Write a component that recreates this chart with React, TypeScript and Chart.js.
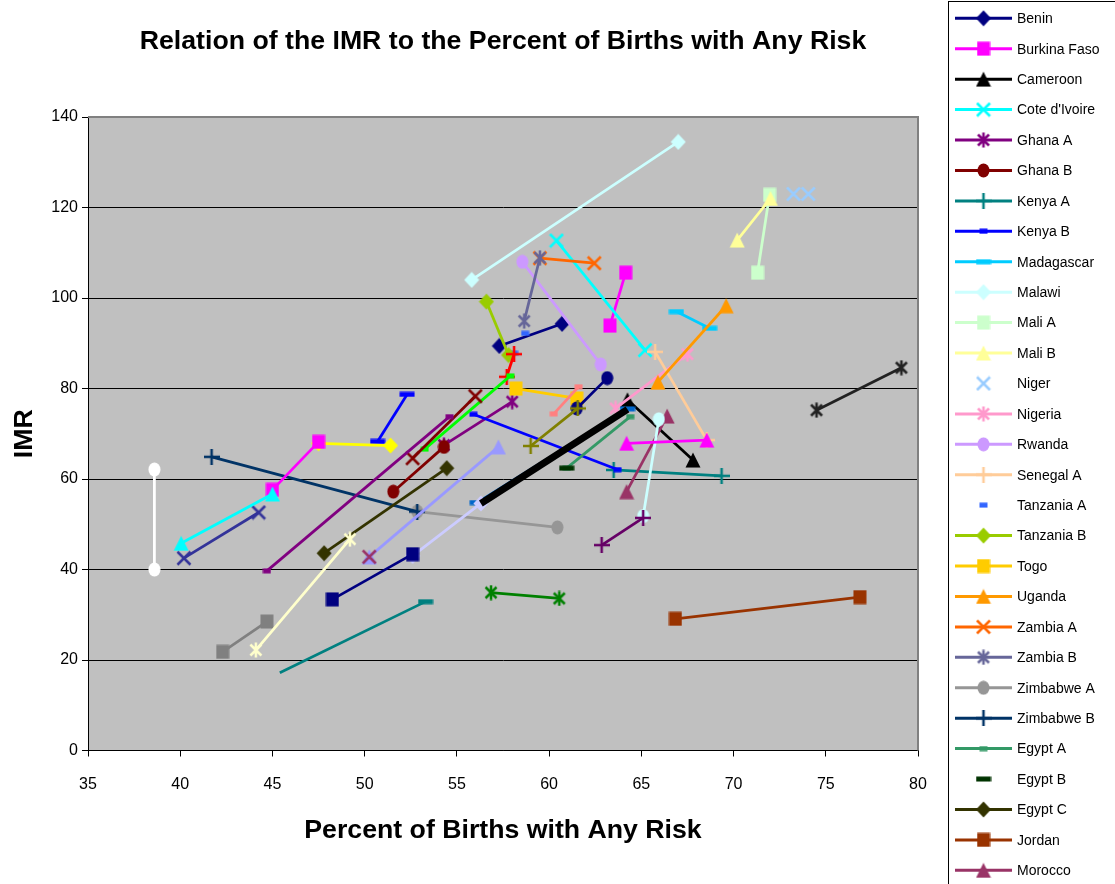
import React, { useEffect, useRef } from 'react';
import { Chart, registerables } from 'chart.js';

Chart.register(...registerables);

const FONT = "'Liberation Sans', Arial, sans-serif";

const chartTitle = 'Relation of the IMR to the Percent of Births with Any Risk';
const xAxisTitle = 'Percent of Births with Any Risk';
const yAxisTitle = 'IMR';

const xMin = 35;
const xMax = 80;
const xStep = 5;
const yMin = 0;
const yMax = 140;
const yStep = 20;

const seriesNames = [
  'Benin', 'Burkina Faso', 'Cameroon', "Cote d'Ivoire", 'Ghana A', 'Ghana B', 'Kenya A', 'Kenya B',
  'Madagascar', 'Malawi', 'Mali A', 'Mali B', 'Niger', 'Nigeria', 'Rwanda', 'Senegal A',
  'Tanzania A', 'Tanzania B', 'Togo', 'Uganda', 'Zambia A', 'Zambia B', 'Zimbabwe A', 'Zimbabwe B',
  'Egypt A', 'Egypt B', 'Egypt C', 'Jordan', 'Morocco',
  'Series 30', 'Series 31', 'Series 32', 'Series 33', 'Series 34', 'Series 35', 'Series 36',
  'Series 37', 'Series 38', 'Series 39', 'Series 40', 'Series 41', 'Series 42', 'Series 43',
  'Series 44', 'Series 45', 'Series 46', 'Series 47', 'Series 48', 'Series 49', 'Series 50',
  'Series 51', 'Series 52', 'Series 53', 'Series 54', 'Series 55', 'Series 56',
];

const xValues: number[][] = [
  [57.3, 60.7], [63.3, 64.15], [64.25, 67.8], [60.4, 65.2], [54.3, 58.0], [51.55, 54.3],
  [63.5, 69.35], [55.9, 63.7], [66.9, 68.7], [55.8, 67.0], [71.3, 71.95], [70.2, 72.0],
  [73.25, 74.05], [63.6, 67.5], [58.55, 62.8], [65.75, 68.55], [58.1, 58.7], [56.6, 57.8],
  [58.2, 61.5], [65.9, 69.6], [59.5, 62.45], [58.65, 59.5], [52.85, 60.45], [41.7, 52.85],
  [60.95, 64.4], [60.95], [47.8, 54.45], [66.85, 76.85], [64.2, 66.4],
  [40.2, 44.25], [74.5, 79.1], [38.6, 38.6], [58.1, 57.7], [53.25, 57.9], [50.7, 52.3],
  [47.5, 51.4], [45.0, 47.5], [40.05, 45.0], [52.6, 56.0], [56.85, 60.55], [61.5, 63.15],
  [59.0, 61.55], [44.7, 54.6], [45.4, 53.3], [42.3, 44.7], [50.25, 57.25], [50.25],
  [44.1, 49.2], [65.1, 65.95], [62.85, 65.1], [60.25, 61.6], [56.1, 64.25], [52.6, 56.3],
  [48.25, 52.6], [64.2, 68.55], [56.3, 64.25],
];

const yValues: number[][] = [
  [89.4, 94.3], [93.9, 105.6], [77.5, 64.2], [112.7, 88.5], [67.5, 77.1], [57.2, 67.1],
  [62.0, 60.7], [74.3, 62.1], [97.0, 93.3], [104.0, 134.5], [105.6, 122.8], [112.8, 122.0],
  [123.0, 123.0], [75.6, 87.6], [108.0, 85.3], [88.1, 68.6], [87.8, 92.2], [99.2, 87.4],
  [80.0, 77.8], [81.4, 98.3], [108.8, 107.7], [94.9, 108.9], [52.8, 49.3], [64.9, 52.8],
  [62.4, 73.8], [62.4], [43.6, 62.4], [29.1, 33.9], [57.2, 73.9],
  [42.5, 52.6], [75.2, 84.6], [62.1, 40.0], [87.6, 82.6], [66.6, 82.8], [68.3, 78.7],
  [67.9, 67.4], [57.6, 68.2], [45.8, 56.7], [64.6, 78.3], [34.9, 33.6], [75.6, 82.3],
  [67.3, 75.6], [39.7, 73.8], [17.2, 32.9], [21.8, 28.5], [42.8, 67.1], [42.8],
  [22.2, 46.7], [51.8, 73.2], [45.4, 51.4], [74.4, 80.4], [54.8, 75.5], [43.0, 54.6],
  [33.4, 43.4], [67.9, 68.6], [54.6, 75.4],
];

const seriesColors = [
  '#000080', '#FF00FF', '#000000', '#00FFFF', '#800080', '#800000', '#008080', '#0000FF',
  '#00CCFF', '#CCFFFF', '#CCFFCC', '#FFFF99', '#99CCFF', '#FF99CC', '#CC99FF', '#FFCC99',
  '#3366FF', '#99CC00', '#FFCC00', '#FF9900', '#FF6600', '#666699', '#969696', '#003366',
  '#339966', '#003300', '#333300', '#993300', '#993366',
  '#333399', '#222222', '#FFFFFF', '#FF0000', '#00FF00', '#0000FF', '#FFFF00', '#FF00FF',
  '#00FFFF', '#800000', '#008000', '#000080', '#808000', '#800080', '#008080', '#808080',
  '#9999FF', '#993366', '#FFFFCC', '#CCFFFF', '#660066', '#FF8080', '#0066CC', '#CCCCFF',
  '#000080', '#FF00FF', '#000000',
];

const seriesMarkers = [
  'diamond', 'square', 'triangle', 'x', 'star', 'circle', 'plus', 'dash', 'bar',
  'diamond', 'square', 'triangle', 'x', 'star', 'circle', 'plus', 'dash',
  'diamond', 'square', 'triangle', 'x', 'star', 'circle', 'plus', 'dash', 'bar',
  'diamond', 'square', 'triangle',
  'x', 'star', 'circle', 'plus', 'dash', 'bar', 'diamond', 'square', 'triangle',
  'x', 'star', 'circle', 'plus', 'dash', 'bar', 'square', 'triangle', 'x', 'star',
  'circle', 'plus', 'dash', 'bar', 'diamond', 'square', 'triangle', 'none',
];

const noLineSeries = [12, 16, 25];
const thickSeries = [55];
const hiddenMarkerPoints: [number, number][] = [[43, 0]];

function makeMarker(shape: string, color: string): HTMLCanvasElement | null {
  if (shape === 'none') return null;
  let w = 16;
  let h = 16;
  if (shape === 'diamond') { w = 16; h = 17; }
  if (shape === 'square') { w = 14; h = 15; }
  if (shape === 'triangle') { w = 16; h = 16; }
  if (shape === 'x' || shape === 'star') { w = 16; h = 16; }
  if (shape === 'circle') { w = 13; h = 15; }
  if (shape === 'plus') { w = 16; h = 16; }
  if (shape === 'dash') { w = 9; h = 6; }
  if (shape === 'bar') { w = 16; h = 6; }
  const c = document.createElement('canvas');
  c.width = w;
  c.height = h;
  const g = c.getContext('2d')!;
  g.fillStyle = color;
  g.strokeStyle = color;
  g.lineWidth = 2.5;
  const cx = w / 2;
  const cy = h / 2;
  g.beginPath();
  switch (shape) {
    case 'diamond':
      g.moveTo(cx, 0.5); g.lineTo(w - 0.5, cy); g.lineTo(cx, h - 0.5); g.lineTo(0.5, cy); g.closePath(); g.fill();
      break;
    case 'square':
      g.fillRect(0.5, 0.5, w - 1, h - 1);
      break;
    case 'triangle':
      g.moveTo(cx, 0.5); g.lineTo(w - 0.5, h - 0.5); g.lineTo(0.5, h - 0.5); g.closePath(); g.fill();
      break;
    case 'x':
      g.moveTo(1.5, 1.5); g.lineTo(w - 1.5, h - 1.5); g.moveTo(w - 1.5, 1.5); g.lineTo(1.5, h - 1.5); g.stroke();
      break;
    case 'star':
      g.moveTo(2.5, 2.5); g.lineTo(w - 2.5, h - 2.5); g.moveTo(w - 2.5, 2.5); g.lineTo(2.5, h - 2.5);
      g.moveTo(cx, 0.5); g.lineTo(cx, h - 0.5); g.stroke();
      break;
    case 'circle':
      g.ellipse(cx, cy, w / 2 - 0.5, h / 2 - 0.5, 0, 0, Math.PI * 2); g.fill();
      break;
    case 'plus':
      g.moveTo(cx, 0); g.lineTo(cx, h); g.moveTo(0, cy); g.lineTo(w, cy); g.stroke();
      break;
    case 'dash':
    case 'bar':
      g.fillRect(0.5, 0.5, w - 1, h - 1);
      break;
  }
  return c;
}

export default function App() {
  const canvasRef = useRef<HTMLCanvasElement | null>(null);

  useEffect(() => {
    document.body.style.margin = '0';
    const canvas = canvasRef.current;
    if (!canvas) return;

    const markers = seriesNames.map((_, i) => makeMarker(seriesMarkers[i], seriesColors[i]));

    const datasets = seriesNames.map((name, i) => {
      const pts = xValues[i].map((x, j) => ({ x, y: yValues[i][j] }));
      const marker = markers[i];
      const radii = pts.map((_, j) =>
        marker && !hiddenMarkerPoints.some(([s, p]) => s === i && p === j) ? 6 : 0
      );
      return {
        label: name,
        data: pts,
        showLine: !noLineSeries.includes(i),
        borderColor: seriesColors[i],
        backgroundColor: seriesColors[i],
        borderWidth: thickSeries.includes(i) ? 7 : 2.75,
        pointStyle: marker || 'circle',
        pointRadius: radii,
        pointHoverRadius: radii,
        tension: 0,
        order: -i,
      };
    });

    const plotPlugin = {
      id: 'plotArea',
      beforeDraw(chart: any) {
        const { ctx, chartArea: a } = chart;
        ctx.save();
        ctx.fillStyle = '#C0C0C0';
        ctx.fillRect(a.left, a.top, a.right - a.left, a.bottom - a.top);
        ctx.restore();
      },
      beforeDatasetsDraw(chart: any) {
        const { ctx, chartArea: a } = chart;
        ctx.save();
        ctx.strokeStyle = '#808080';
        ctx.lineWidth = 2;
        ctx.beginPath();
        ctx.moveTo(a.left, a.top);
        ctx.lineTo(a.right, a.top);
        ctx.lineTo(a.right, a.bottom);
        ctx.stroke();
        ctx.restore();
      },
    };

    const legendPlugin = {
      id: 'sideLegend',
      afterDraw(chart: any) {
        const { ctx } = chart;
        const boxLeft = 948.5;
        const boxTop = 1.5;
        ctx.save();
        ctx.fillStyle = '#FFFFFF';
        ctx.fillRect(boxLeft, boxTop, 300, 1000);
        ctx.strokeStyle = '#000000';
        ctx.lineWidth = 1;
        ctx.strokeRect(boxLeft, boxTop, 300, 1000);
        chart.data.datasets.forEach((ds: any, i: number) => {
          const y = 18.3 + i * 30.43;
          if (y > 900) return;
          if (ds.showLine) {
            ctx.strokeStyle = ds.borderColor;
            ctx.lineWidth = 3;
            ctx.beginPath();
            ctx.moveTo(955, y);
            ctx.lineTo(1012, y);
            ctx.stroke();
          }
          const m = markers[i];
          if (m) ctx.drawImage(m, 983.5 - m.width / 2, y - m.height / 2);
          ctx.fillStyle = '#000000';
          ctx.font = `14px ${FONT}`;
          ctx.textBaseline = 'middle';
          ctx.textAlign = 'left';
          ctx.fillText(ds.label, 1017, y + 1);
        });
        ctx.restore();
      },
    };

    const chart = new Chart(canvas, {
      type: 'scatter',
      data: { datasets: datasets as any },
      options: {
        responsive: false,
        animation: false,
        events: [],
        layout: { padding: { left: 0, right: 197, top: 0, bottom: 0 } },
        plugins: {
          legend: { display: false },
          tooltip: { enabled: false },
          title: {
            display: true,
            text: chartTitle,
            fullSize: false,
            color: '#000000',
            font: { family: FONT, size: 26.7, weight: 'bold' },
            padding: { top: 26, bottom: 59 },
          },
        },
        scales: {
          x: {
            type: 'linear',
            min: xMin,
            max: xMax,
            ticks: {
              stepSize: xStep,
              color: '#000000',
              font: { family: FONT, size: 16 },
              padding: 18,
              maxRotation: 0,
            },
            grid: { display: true, drawOnChartArea: false, drawTicks: true, tickLength: 6, color: '#000000', lineWidth: 1 },
            border: { display: true, color: '#000000', width: 1 },
            title: {
              display: true,
              text: xAxisTitle,
              color: '#000000',
              font: { family: FONT, size: 26.7, weight: 'bold' },
              padding: { top: 0, bottom: 37 },
            },
            afterFit: (s: any) => { s.height = 133.5; },
          },
          y: {
            type: 'linear',
            min: yMin,
            max: yMax,
            ticks: {
              stepSize: yStep,
              color: '#000000',
              font: { family: FONT, size: 16 },
              padding: 4,
            },
            grid: { display: true, drawOnChartArea: true, drawTicks: true, tickLength: 6, color: '#000000', lineWidth: 1 },
            border: { display: true, color: '#000000', width: 1 },
            title: {
              display: true,
              text: yAxisTitle,
              color: '#000000',
              font: { family: FONT, size: 26.7, weight: 'bold' },
              padding: { top: 9, bottom: 0 },
            },
            afterFit: (s: any) => { s.width = 88; },
          },
        },
      } as any,
      plugins: [plotPlugin, legendPlugin],
    });

    return () => chart.destroy();
  }, []);

  return (
    <div style={{ width: 1115, height: 884, position: 'relative', overflow: 'hidden' }}>
      <canvas ref={canvasRef} width={1115} height={884} style={{ width: 1115, height: 884, display: 'block' }} />
    </div>
  );
}
